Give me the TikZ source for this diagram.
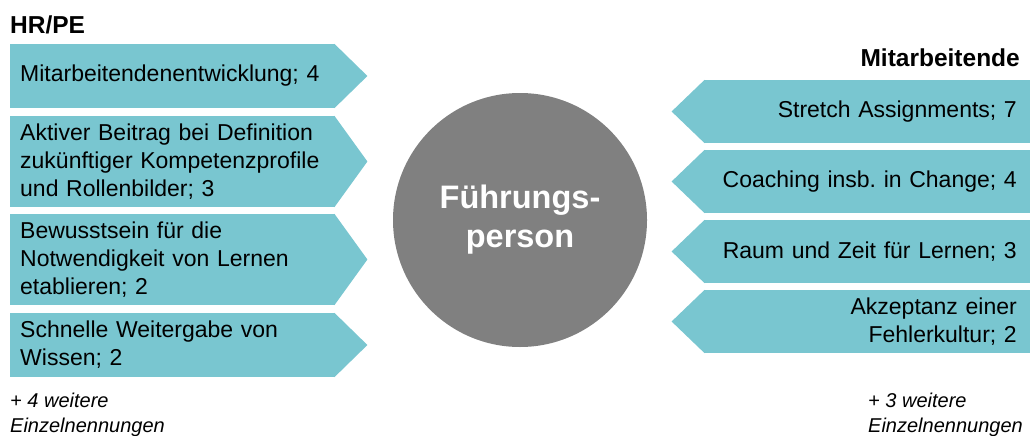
\documentclass[tikz,border=0pt]{standalone}
\usepackage{fontspec}
\setmainfont{Liberation Sans}
\usetikzlibrary{calc, positioning}

\definecolor{boxteal}{RGB}{121,198,208}
\definecolor{circlegray}{RGB}{128,128,128}

\begin{document}
\frenchspacing
\begin{tikzpicture}[x=1pt, y=-1pt,
        lbox/.style={fill=boxteal, anchor=west, minimum width=325, text width=305, inner xsep=10, align=left, font=\fontsize{23}{28}\selectfont},
        rbox/.style={fill=boxteal, anchor=east, minimum width=326, minimum height=63, text width=300, inner xsep=13, align=right, font=\fontsize{23}{28}\selectfont},
        headline/.style={font=\fontsize{24.5}{29}\selectfont\bfseries, inner sep=0},
        footnote/.style={font=\fontsize{20}{25}\selectfont\itshape, align=left, anchor=west, inner sep=0}]
    \useasboundingbox (0, 0) rectangle (1030, 436);

    \node[headline, anchor=west] (HR) at (10, 25) {HR/PE};
    \node[headline, anchor=east] (MA) at (1020, 58) {Mitarbeitende};

    % linke Seite
    \node[lbox, minimum height=64] (hr1) at (10, 76) {Mitarbeitendenentwicklung; 4};
    \node[lbox, minimum height=91] (hr2) at (10, 161.5) {Aktiver Beitrag bei Definition\\zukünftiger Kompetenzprofile\\und Rollenbilder; 3};
    \node[lbox, minimum height=91] (hr3) at (10, 259.5) {Bewusstsein für die\\Notwendigkeit von Lernen\\etablieren; 2};
    \node[lbox, minimum height=64] (hr4) at (10, 345) {Schnelle Weitergabe von\\Wissen; 2};

    % rechte Seite
    \node[rbox] (ma1) at (1030, 111.5) {Stretch Assignments; 7};
    \node[rbox] (ma2) at (1030, 181.5) {Coaching insb. in Change; 4};
    \node[rbox] (ma3) at (1030, 251.5) {Raum und Zeit für Lernen; 3};
    \node[rbox] (ma4) at (1030, 321.5) {Akzeptanz einer\\Fehlerkultur; 2};

    \foreach \n in {hr1, hr2, hr3, hr4}
        \fill[boxteal] ($(\n.north east) + (-1, 0)$) -- ($(\n.east) + (32, 0)$) -- ($(\n.south east) + (-1, 0)$) -- cycle;
    \foreach \n in {ma1, ma2, ma3, ma4}
        \fill[boxteal] ($(\n.north west) + (1, 0)$) -- ($(\n.west) + (-32, 0)$) -- ($(\n.south west) + (1, 0)$) -- cycle;

    \node[circle, fill=circlegray, minimum size=254, text=white, align=center,
          font=\fontsize{32.5}{39}\selectfont\bfseries] (FP) at (520, 220) {Führungs-\\person};

    \node[footnote] (restHR) at (10, 414.5) {+ 4 weitere\\Einzelnennungen};
    \node[footnote] (restMA) at (868, 414.5) {+ 3 weitere\\Einzelnennungen};
\end{tikzpicture}
\end{document}
